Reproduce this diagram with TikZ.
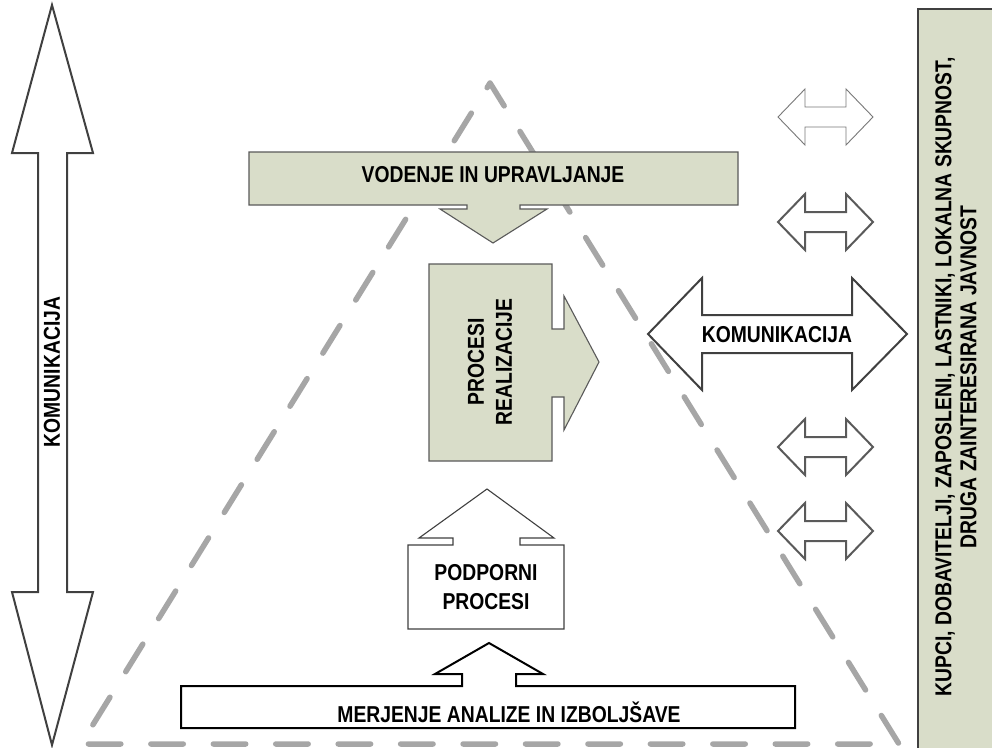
\documentclass[tikz,border=0pt]{standalone}
\usepackage{fontspec}
\newfontfamily\lab[FakeStretch=0.84]{Liberation Sans}
\definecolor{boxgreen}{RGB}{217,221,201}
\definecolor{edgedark}{RGB}{64,64,64}
\definecolor{edgemid}{RGB}{90,90,90}
\definecolor{edgelight}{RGB}{120,120,120}
\definecolor{trigray}{RGB}{166,166,166}
\tikzset{
  lbl/.style={font=\lab\bfseries\fontsize{23}{28}\selectfont, align=center, inner sep=0pt, text=black},
  trianglepath/.style={draw=trigray, line width=5.5pt, line cap=round, line join=round,
      dash pattern=on 32.44pt off 30pt, dash phase=27pt},
  greenshape/.style={fill=boxgreen, draw=edgemid, line width=1.1pt, line join=miter},
  whiteshape/.style={fill=white, draw=edgedark, line width=1.1pt, line join=miter},
  bigarrow/.style={fill=white, draw=edgedark, line width=2pt, line join=miter},
  blackshape/.style={fill=white, draw=black, line width=2pt, line join=miter},
  faintarrow/.style={fill=white, draw=edgelight, line width=0.9pt, line join=miter},
  smallarrow/.style={fill=white, draw=edgemid, line width=2pt, line join=miter}
}
\newcommand{\dblarrow}[2]{%
  \draw[#1] (778,#2) -- (805,#2-28) -- (805,#2-10) -- (846,#2-10) -- (846,#2-28)
    -- (873,#2) -- (846,#2+28) -- (846,#2+10) -- (805,#2+10) -- (805,#2+28) -- cycle;}
\begin{document}
\begin{tikzpicture}[x=1pt,y=-1pt]
\clip (0,0) rectangle (992,747);
\fill[white] (0,0) rectangle (992,747);

% dashed triangle
\coordinate (apex) at (490,83);
\coordinate (bl) at (81,744);
\coordinate (br) at (899,744);
\draw[trianglepath] (apex) -- (bl) -- (br) -- cycle;

% left vertical communication arrow
\draw[bigarrow] (52,5) -- (93,153) -- (67,153) -- (67,592) -- (93,592) -- (52,745)
  -- (12,592) -- (38,592) -- (38,153) -- (12,153) -- cycle;
\node[lbl, rotate=90] (komleft) at (52,372) {KOMUNIKACIJA};

% management box with down arrow
\draw[greenshape] (249,152) -- (738,152) -- (738,205) -- (520,205) -- (520,209)
  -- (547,209) -- (493,243) -- (440,209) -- (467,209) -- (467,205) -- (249,205) -- cycle;
\node[lbl] (vodenje) at (493,175) {VODENJE IN UPRAVLJANJE};

% realisation processes with right arrow
\draw[greenshape] (429,264) -- (552,264) -- (552,329) -- (564,329) -- (564,296)
  -- (599,362) -- (564,430) -- (564,397) -- (552,397) -- (552,461) -- (429,461) -- cycle;
\node[lbl, rotate=90, font=\lab\bfseries\fontsize{23}{28}\selectfont] (procesi) at (490,362) {PROCESI\\REALIZACIJE};

% support processes with up arrow
\draw[whiteshape] (408,545) -- (453,545) -- (453,538) -- (419,538) -- (487,489)
  -- (554,538) -- (520,538) -- (520,545) -- (564,545) -- (564,629) -- (408,629) -- cycle;
\node[lbl, font=\lab\bfseries\fontsize{23}{29}\selectfont] (podporni) at (486,587) {PODPORNI\\PROCESI};

% measurement box with up arrow
\draw[blackshape] (181,686) -- (462,686) -- (462,674) -- (435,674) -- (489,643)
  -- (543,674) -- (516,674) -- (516,686) -- (795,686) -- (795,728) -- (181,728) -- cycle;
\node[lbl] (merjenje) at (509,712) {MERJENJE ANALIZE IN IZBOLJŠAVE};

% small double arrows
\dblarrow{faintarrow}{117}
\dblarrow{smallarrow}{222}
\dblarrow{smallarrow}{447}
\dblarrow{smallarrow}{531}

% big horizontal communication arrow
\draw[bigarrow] (648,334) -- (702,278) -- (702,315) -- (852,315) -- (852,278)
  -- (907,334) -- (852,390) -- (852,353) -- (702,353) -- (702,390) -- cycle;
\node[lbl] (komright) at (777,335) {KOMUNIKACIJA};

% stakeholders panel
\draw[greenshape, draw=edgedark] (918,9) rectangle (1000,760);
\node[lbl, rotate=90, font=\lab\bfseries\fontsize{23}{25}\selectfont] (stake) at (956,377)
  {KUPCI, DOBAVITELJI, ZAPOSLENI, LASTNIKI, LOKALNA SKUPNOST,\\DRUGA ZAINTERESIRANA JAVNOST};
\end{tikzpicture}
\end{document}
